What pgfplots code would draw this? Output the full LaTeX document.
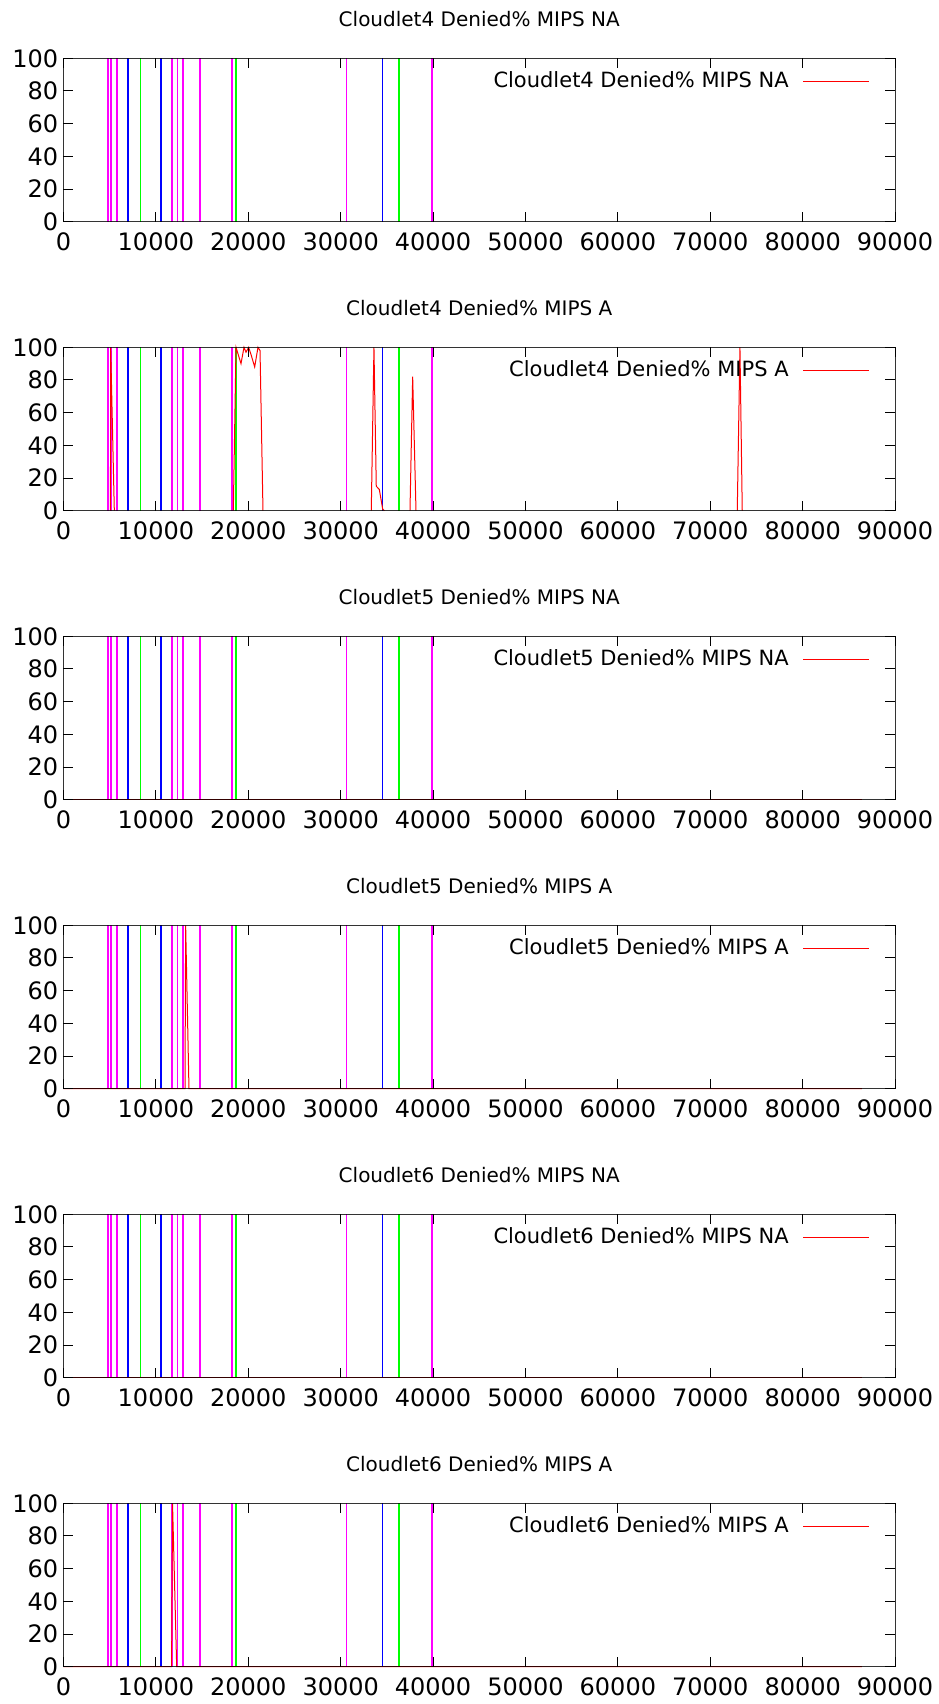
\documentclass[border=0pt]{standalone}
\usepackage{fontspec}
\setmainfont{DejaVu Sans}
\usepackage{pgfplots}
\pgfplotsset{compat=1.18}

\definecolor{gpmag}{RGB}{255,0,255}
\definecolor{gpblue}{RGB}{0,0,255}
\definecolor{gpgreen}{RGB}{0,255,0}
\definecolor{gpred}{RGB}{255,0,0}

% one panel of the stack, 1px of the original = 0.5pt
\pgfplotsset{
  panel/.style={
    scale only axis,
    width=415.8pt, height=81.7pt,
    anchor=north west,
    xmin=0, xmax=90000, ymin=0, ymax=100,
    xtick={0,10000,...,90000},
    ytick={0,20,...,100},
    scaled x ticks=false,
    /pgf/number format/1000 sep={},
    /pgf/number format/assume math mode=true,
    axis on top,
    tick align=inside,
    major tick length=5pt,
    tick style={black, line width=0.5pt},
    axis line style={line width=0.5pt, draw opacity=0.8},
    tick label style={font=\fontsize{12}{14}\selectfont},
    xticklabel style={inner sep=0pt, yshift=-5.2pt},
    yticklabel style={inner sep=0pt, xshift=-2.5pt},
    title style={at={(0.5,1)}, anchor=base, yshift=10pt, inner sep=0pt,
      font=\fontsize{10}{12}\selectfont},
    clip=false,
    legend plot pos=right,
    legend cell align=right,
    legend image code/.code={\draw[#1] (0pt,0pt) -- (33pt,0pt);},
    legend style={draw=none, fill=none, at={(1,0.858)}, anchor=east,
      xshift=-12.5pt, inner sep=0pt, nodes={inner sep=0pt}, column sep=7pt},
  },
  denied/.style={gpred, line width=0.5pt, unbounded coords=jump},
}

% markers that are the same in every panel
\newcommand{\vlines}{%
  \addplot[ycomb, gpmag, line width=1pt, forget plot] coordinates {
    (4800,100) (5120,100) (5770,100) (11720,100) (12933,100) (14737,100) (18272,100) (39881,100)};
  \addplot[ycomb, gpmag, line width=0.5pt, forget plot] coordinates {(12284,100) (30610,100)};
  \addplot[ycomb, gpblue, line width=1pt, forget plot] coordinates {(6960,100) (10552,100)};
  \addplot[ycomb, gpblue, line width=0.5pt, forget plot] coordinates {(34542,100)};
  \addplot[ycomb, gpgreen, line width=0.5pt, forget plot] coordinates {(8387,100)};
  \addplot[ycomb, gpgreen, line width=1pt, forget plot] coordinates {(18669,100) (36310,100)};
}

\begin{document}
\begin{tikzpicture}[font=\fontsize{10.5}{12.6}\selectfont]
\path[use as bounding box] (-31.75pt,29.15pt) rectangle (437.25pt,-822.85pt);

\begin{axis}[panel, at={(0pt,0pt)}, title={Cloudlet4 Denied\% MIPS NA}]
  \vlines
  \addlegendimage{denied}
  \addlegendentry{Cloudlet4 Denied\% MIPS NA}
\end{axis}

\begin{axis}[panel, at={(0pt,-144.5pt)}, title={Cloudlet4 Denied\% MIPS A}]
  \vlines
  \addplot[denied] coordinates {
    (5080,0) (5105,100) (5500,0) (5600,nan)
    (18380,0) (18670,100) (19210,90) (19535,100) (19750,97) (20040,100)
    (20325,95) (20690,88) (21050,100) (21270,98) (21590,0) (21700,nan)
    (33310,0) (33600,100) (33850,15) (34180,13) (34545,1) (34720,0) (34800,nan)
    (37500,0) (37790,82) (38150,0) (38200,nan)
    (72920,0) (73210,100) (73460,0)};
  \addlegendentry{Cloudlet4 Denied\% MIPS A}
\end{axis}

\begin{axis}[panel, at={(0pt,-289pt)}, title={Cloudlet5 Denied\% MIPS NA}]
  \vlines
  \addplot[denied] coordinates {(0,0) (86400,0)};
  \addlegendentry{Cloudlet5 Denied\% MIPS NA}
\end{axis}

\begin{axis}[panel, at={(0pt,-433.5pt)}, title={Cloudlet5 Denied\% MIPS A}]
  \vlines
  \addplot[denied] coordinates {(0,0) (13150,0) (13220,100) (13580,0) (86400,0)};
  \addlegendentry{Cloudlet5 Denied\% MIPS A}
\end{axis}

\begin{axis}[panel, at={(0pt,-578pt)}, title={Cloudlet6 Denied\% MIPS NA}]
  \vlines
  \addplot[denied] coordinates {(0,0) (86400,0)};
  \addlegendentry{Cloudlet6 Denied\% MIPS NA}
\end{axis}

\begin{axis}[panel, at={(0pt,-722.5pt)}, title={Cloudlet6 Denied\% MIPS A}]
  \vlines
  \addplot[denied] coordinates {(0,0) (11700,0) (11800,100) (12250,0) (86400,0)};
  \addlegendentry{Cloudlet6 Denied\% MIPS A}
\end{axis}
\end{tikzpicture}
\end{document}
